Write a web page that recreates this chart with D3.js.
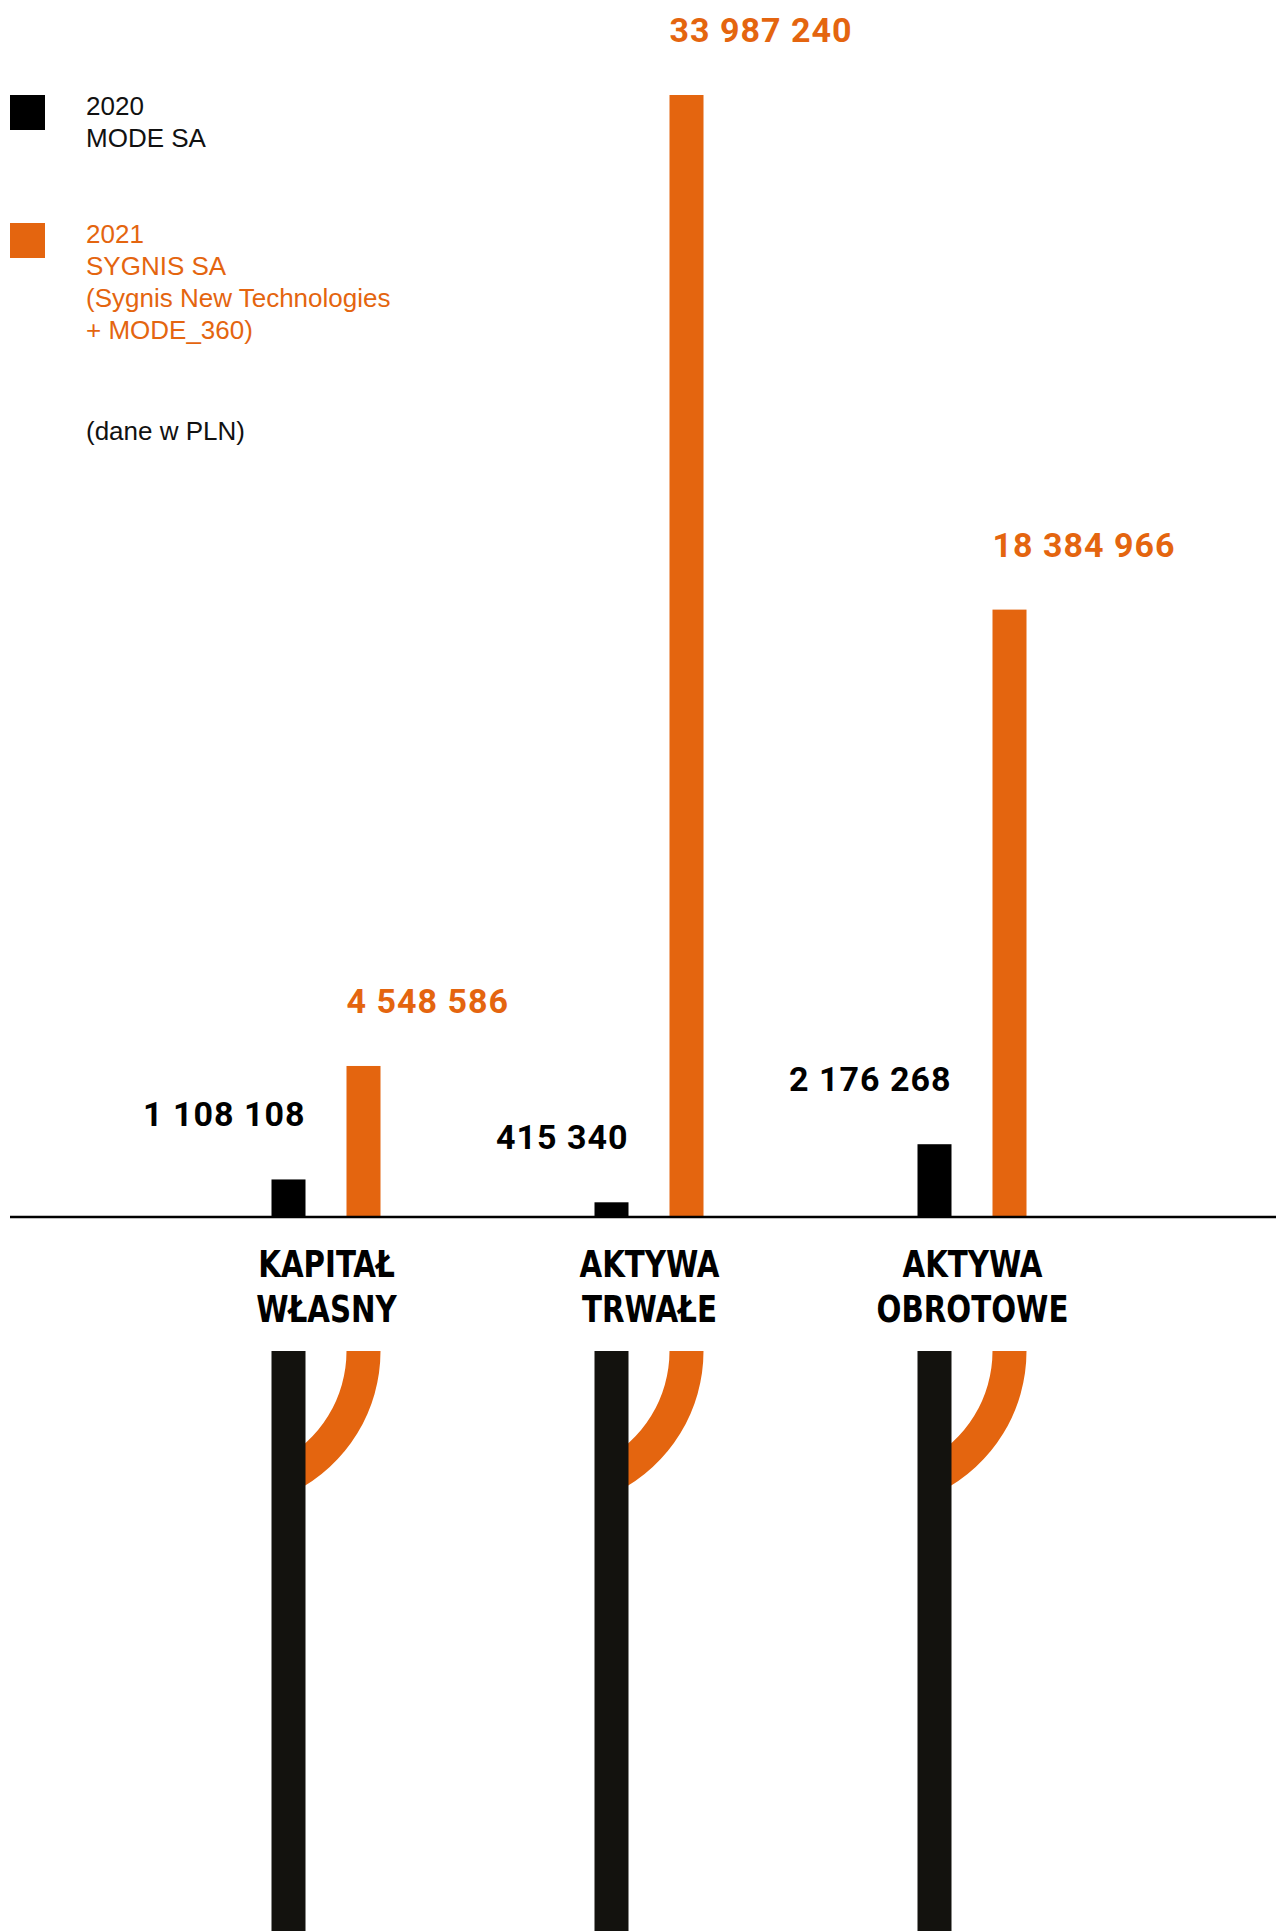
<!DOCTYPE html>
<html>
<head>
<meta charset="utf-8">
<script src="https://cdn.jsdelivr.net/npm/d3@7"></script>
<style>
  body { margin: 0; background: #fff; }
  svg { display: block; }
</style>
</head>
<body>
<div id="chart"></div>
<script>
// data (PLN)
const categories = [["KAPITAŁ", "WŁASNY"], ["AKTYWA", "TRWAŁE"], ["AKTYWA", "OBROTOWE"]];
const series = ["2020", "2021"];
const values2020 = [1108108, 415340, 2176268];
const values2021 = [4548586, 33987240, 18384966];
const legendLines = [
  ["2020", "MODE SA"],
  ["2021", "SYGNIS SA", "(Sygnis New Technologies", "+ MODE_360)"]
];
const unitNote = "(dane w PLN)";

const width = 1276;
const height = 1931;
const colors = { "2020": "#000000", "2021": "#e4650f" };
const stemColor = "#13120e";

const svg = d3.select("#chart")
  .append("svg")
  .attr("width", width)
  .attr("height", height);

const catKeys = categories.map(d => d.join(" "));

// scales
const x0 = d3.scaleBand()
  .domain(catKeys)
  .range([165, 1134]);

const x1 = d3.scaleBand()
  .domain(series)
  .range([-55, 54])
  .paddingInner(0.5467);

const y = d3.scaleLinear()
  .domain([0, d3.max(values2021)])
  .range([1216, 95]);

const fmt = v => d3.format(",")(v).replace(/,/g, " ");
const mid = k => x0(k) + x0.bandwidth() / 2;

const rows = catKeys.map((k, i) => ({ key: k, lines: categories[i], "2020": values2020[i], "2021": values2021[i] }));

// decorative stems below the labels
const stems = svg.append("g").attr("class", "stems");
const arc = d3.arc()
  .innerRadius(124)
  .outerRadius(158)
  .startAngle(Math.PI / 2)
  .endAngle(Math.PI / 2 + 1.1);

stems.selectAll(".branch")
  .data(rows)
  .enter()
  .append("path")
  .attr("class", "branch")
  .attr("transform", d => `translate(${mid(d.key) + x1("2021") + x1.bandwidth() / 2 - 141},1351)`)
  .attr("d", arc)
  .attr("fill", colors["2021"]);

stems.selectAll(".stem")
  .data(rows)
  .enter()
  .append("rect")
  .attr("class", "stem")
  .attr("x", d => mid(d.key) + x1("2020"))
  .attr("y", 1351)
  .attr("width", x1.bandwidth())
  .attr("height", height - 1351)
  .attr("fill", stemColor);

// bars
const groups = svg.selectAll(".group")
  .data(rows)
  .enter()
  .append("g")
  .attr("class", "group")
  .attr("transform", d => `translate(${mid(d.key)},0)`);

groups.selectAll("rect")
  .data(d => series.map(s => ({ s, v: d[s] })))
  .enter()
  .append("rect")
  .attr("x", d => x1(d.s))
  .attr("y", d => y(d.v))
  .attr("width", x1.bandwidth())
  .attr("height", d => y(0) - y(d.v))
  .attr("fill", d => colors[d.s]);

// value labels: 2020 right aligned to bar, 2021 left aligned
groups.selectAll(".value")
  .data(d => series.map(s => ({ s, v: d[s] })))
  .enter()
  .append("text")
  .attr("class", "value")
  .attr("x", d => d.s === "2020" ? x1(d.s) + x1.bandwidth() : x1(d.s))
  .attr("y", d => y(d.v) - 53)
  .style("text-anchor", d => d.s === "2020" ? "end" : "start")
  .style("font-family", "Roboto, 'DejaVu Sans', sans-serif")
  .style("font-weight", "700")
  .style("font-size", "34px")
  .style("letter-spacing", "1px")
  .style("fill", d => colors[d.s])
  .text(d => fmt(d.v));

// baseline
svg.append("line")
  .attr("x1", 10)
  .attr("x2", width)
  .attr("y1", y(0) + 1)
  .attr("y2", y(0) + 1)
  .attr("stroke", "#000")
  .attr("stroke-width", 2.5);

// category labels (condensed a bit)
const catLabel = svg.selectAll(".cat")
  .data(rows)
  .enter()
  .append("text")
  .attr("class", "cat")
  .attr("transform", d => `translate(${mid(d.key)},1277) scale(0.88,1)`)
  .style("text-anchor", "middle")
  .style("font-family", "'Liberation Sans Narrow', 'DejaVu Sans Condensed', sans-serif")
  .style("font-weight", "700")
  .style("font-size", "37px")
  .style("fill", "#000");

catLabel.selectAll("tspan")
  .data(d => d.lines)
  .enter()
  .append("tspan")
  .attr("x", 0)
  .attr("dy", (d, i) => i === 0 ? 0 : 45)
  .text(d => d);

// legend
const legend = svg.selectAll(".legend")
  .data(series)
  .enter()
  .append("g")
  .attr("class", "legend")
  .attr("transform", (d, i) => `translate(10,${i === 0 ? 95 : 223})`);

legend.append("rect")
  .attr("width", 35)
  .attr("height", 35)
  .attr("fill", d => colors[d]);

const legText = legend.append("text")
  .attr("x", 76)
  .attr("y", 20)
  .style("font-family", "'Liberation Sans', Arial, sans-serif")
  .style("font-size", "26px")
  .style("fill", d => d === "2020" ? "#111" : colors[d]);

legText.selectAll("tspan")
  .data((d, i) => legendLines[i])
  .enter()
  .append("tspan")
  .attr("x", 76)
  .attr("dy", (d, i) => i === 0 ? 0 : 32)
  .text(d => d);

svg.append("text")
  .attr("x", 86)
  .attr("y", 440)
  .style("font-family", "'Liberation Sans', Arial, sans-serif")
  .style("font-size", "26px")
  .style("fill", "#111")
  .text(unitNote);
</script>
</body>
</html>
